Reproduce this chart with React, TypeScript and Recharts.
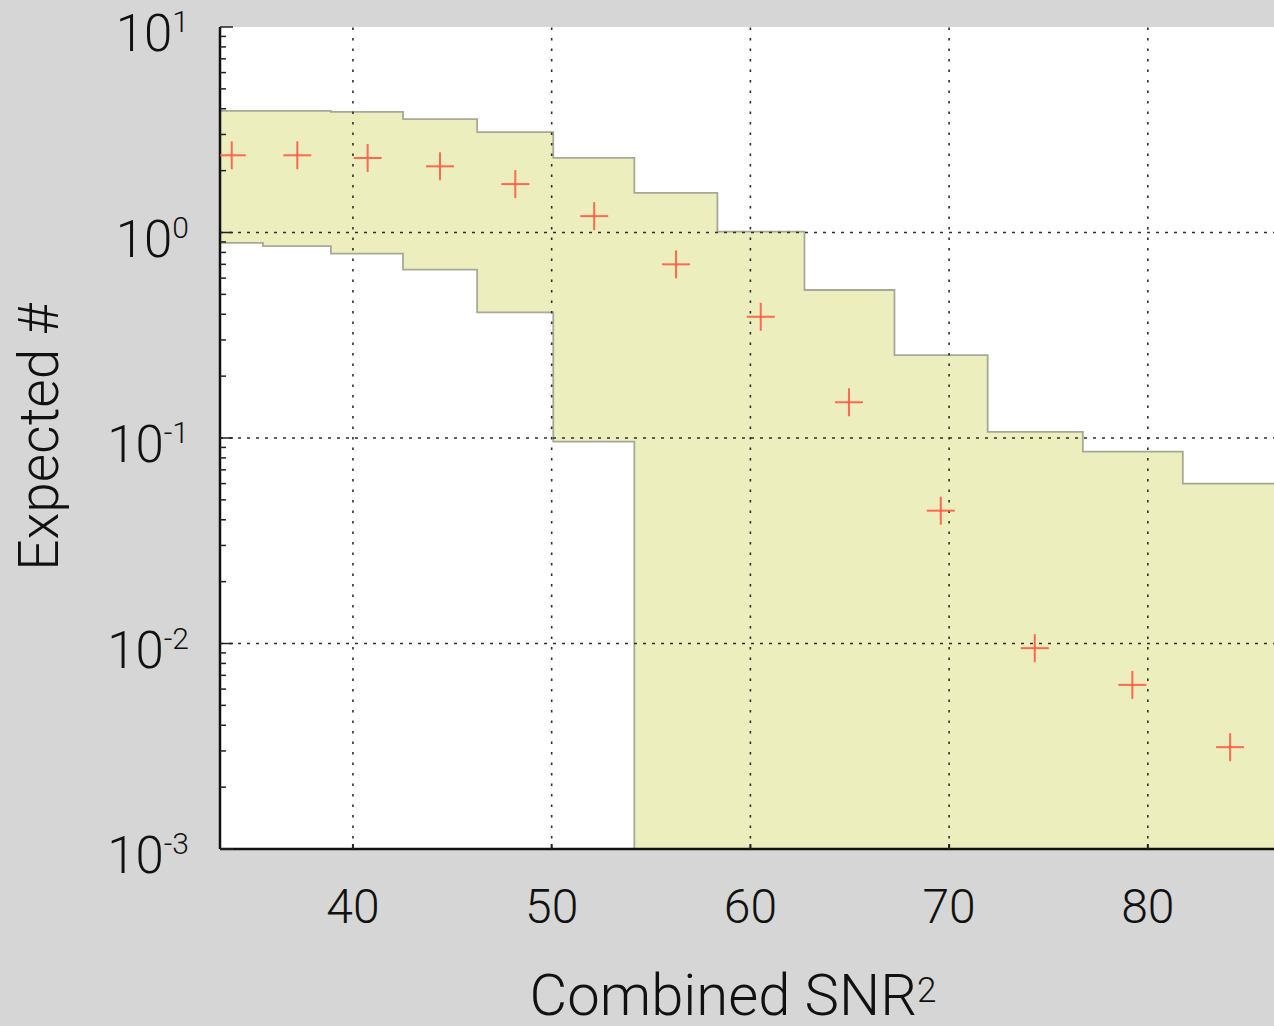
import { ComposedChart, Area, Scatter, XAxis, YAxis, ReferenceLine, CartesianGrid } from "recharts";

// step-histogram bin edges (Combined SNR^2) and the shaded band per bin
const binEdges = [32.3, 35.47, 38.89, 42.52, 46.25, 50.08, 54.16, 58.34, 62.72, 67.25, 71.94, 76.73, 81.76, 86.52];
const bandUpper = [3.91, 3.91, 3.86, 3.56, 3.08, 2.31, 1.56, 1.01, 0.525, 0.253, 0.107, 0.0858, 0.06];
const bandLower = [0.891, 0.858, 0.79, 0.66, 0.409, 0.096, 0, 0, 0, 0, 0, 0, 0];

// expected counts (red crosses) at bin centres
const binCenters = [33.9, 37.2, 40.74, 44.38, 48.17, 52.14, 56.26, 60.52, 64.96, 69.58, 74.31, 79.22, 84.14];
const expected = [2.375, 2.375, 2.304, 2.099, 1.72, 1.201, 0.7, 0.389, 0.1493, 0.0443, 0.00949, 0.00629, 0.00313];

const xTicks = [40, 50, 60, 70, 80];
const yMajor = [0.001, 0.01, 0.1, 1, 10];
const yExponents = ["-3", "-2", "-1", "0", "1"];
const yMinor = [
  0.002, 0.003, 0.004, 0.005, 0.006, 0.007, 0.008, 0.009,
  0.02, 0.03, 0.04, 0.05, 0.06, 0.07, 0.08, 0.09,
  0.2, 0.3, 0.4, 0.5, 0.6, 0.7, 0.8, 0.9,
  2, 3, 4, 5, 6, 7, 8, 9,
];
const gridY = [0.01, 0.1, 1];

const FONT = "Roboto, 'Liberation Sans', sans-serif";
const LOG_FLOOR = 1e-6;

const bandData = binEdges.map((snr, i) => {
  const k = Math.min(i, bandUpper.length - 1);
  return { snr, band: [Math.max(bandLower[k], LOG_FLOOR), bandUpper[k]] };
});
const crossData = binCenters.map((snr, i) => ({ snr, expected: expected[i] }));
const yTicks = [...yMajor, ...yMinor].sort((a, b) => a - b);

function YTick({ x, y, payload }: any) {
  const idx = yMajor.indexOf(payload.value);
  const major = idx >= 0;
  return (
    <g>
      <line x1={x} x2={x + (major ? 13 : 6)} y1={y} y2={y} stroke="#222" strokeWidth={1.5} />
      {major && (
        <text x={x - 31} y={y + 24} textAnchor="end" fontSize={51} fontWeight={300} fontFamily={FONT} fill="#111">
          10
          <tspan dy={-19} fontSize={30}>{yExponents[idx]}</tspan>
        </text>
      )}
    </g>
  );
}

function XTick({ x, y, payload }: any) {
  return (
    <g>
      <line x1={x} x2={x} y1={y} y2={y - 5} stroke="#222" strokeWidth={2} />
      <text x={x} y={y + 74} textAnchor="middle" fontSize={48} fontWeight={300} fontFamily={FONT} fill="#111">
        {payload.value}
      </text>
    </g>
  );
}

function TopTick({ x, y }: any) {
  return <line x1={x} x2={x} y1={y} y2={y + 5} stroke="#222" strokeWidth={2} />;
}

function Cross({ cx, cy }: any) {
  return (
    <g stroke="#ff5a44" strokeWidth={2} strokeOpacity={0.9}>
      <line x1={cx - 14} x2={cx + 14} y1={cy} y2={cy} />
      <line x1={cx} x2={cx} y1={cy - 14} y2={cy + 14} />
    </g>
  );
}

export default function App() {
  return (
    <div
      style={{
        position: "fixed",
        left: 0,
        top: 0,
        width: 1274,
        height: 1026,
        overflow: "hidden",
        background: "#d6d6d6",
      }}
    >
      <ComposedChart
        width={1290}
        height={1026}
        data={bandData}
        margin={{ top: 27, right: 11, bottom: 0, left: 0 }}
      >
        <CartesianGrid fill="#ffffff" stroke="none" horizontal={false} vertical={false} />
        <XAxis
          dataKey="snr"
          type="number"
          domain={[33.31, 86.6]}
          allowDataOverflow
          ticks={xTicks}
          interval={0}
          height={177}
          tickSize={0}
          tickMargin={0}
          tickLine={false}
          tick={<XTick />}
          axisLine={{ stroke: "#111", strokeWidth: 2.5 }}
        />
        <XAxis
          xAxisId="top"
          orientation="top"
          type="number"
          domain={[33.31, 86.6]}
          allowDataOverflow
          ticks={xTicks}
          interval={0}
          height={0}
          tickSize={0}
          tickMargin={0}
          tickLine={false}
          tick={<TopTick />}
          axisLine={{ stroke: "#111", strokeWidth: 2.5 }}
        />
        <YAxis
          dataKey="expected"
          scale="log"
          domain={[0.001, 10]}
          allowDataOverflow
          ticks={yTicks}
          interval={0}
          width={220}
          tickSize={0}
          tickMargin={0}
          tickLine={false}
          tick={<YTick />}
          axisLine={{ stroke: "#111", strokeWidth: 2.5 }}
        />
        <Area
          type="stepAfter"
          dataKey="band"
          stroke="#a8a898"
          strokeWidth={1.8}
          fill="#edeebd"
          fillOpacity={1}
          dot={false}
          activeDot={false}
          isAnimationActive={false}
        />
        {gridY.map((v) => (
          <ReferenceLine key={`h${v}`} y={v} stroke="#2e2e2e" strokeWidth={1.6} strokeDasharray="3 6" />
        ))}
        {xTicks.map((v) => (
          <ReferenceLine key={`v${v}`} x={v} stroke="#2e2e2e" strokeWidth={1.6} strokeDasharray="2.5 8" />
        ))}
        <Scatter
          data={crossData}
          dataKey="expected"
          shape={<Cross />}
          isAnimationActive={false}
        />
      </ComposedChart>
      <svg
        width={1274}
        height={1026}
        style={{ position: "absolute", left: 0, top: 0, pointerEvents: "none" }}
      >
        <text
          transform="translate(58,437) rotate(-90)"
          textAnchor="middle"
          fontSize={55}
          fontWeight={300}
          fontFamily={FONT}
          fill="#111"
        >
          Expected #
        </text>
        <text x={733} y={1015} textAnchor="middle" fontSize={58} fontWeight={300} fontFamily={FONT} fill="#111">
          Combined SNR
          <tspan dy={-13} fontSize={35}>2</tspan>
        </text>
      </svg>
    </div>
  );
}
